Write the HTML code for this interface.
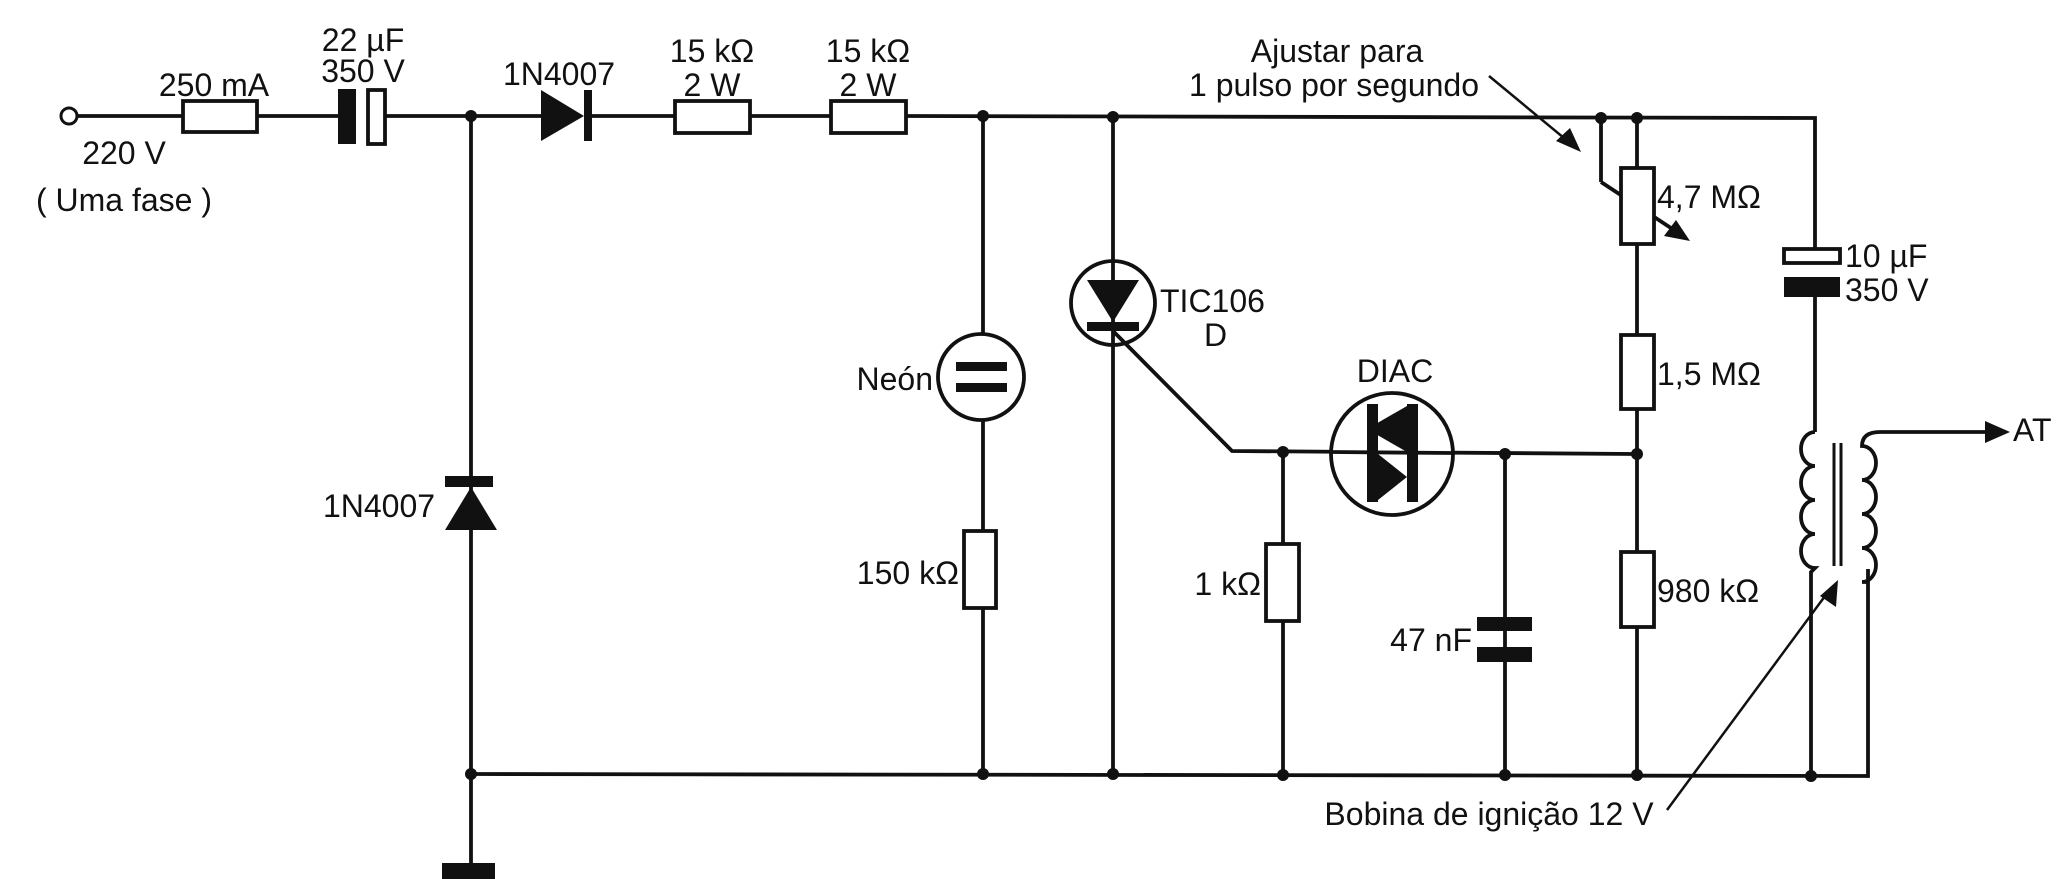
<!DOCTYPE html>
<html><head><meta charset="utf-8"><style>
html,body{margin:0;padding:0;background:#fff;}
svg{display:block;}
text{font-family:"Liberation Sans",Arial,sans-serif;font-size:32px;fill:#111;}
</style></head><body>
<svg width="2068" height="879" viewBox="0 0 2068 879" xmlns="http://www.w3.org/2000/svg">
<g stroke="#111" stroke-width="3.8" fill="none">
<line x1="77" y1="116" x2="183" y2="116"/>
<line x1="257" y1="116" x2="338" y2="116"/>
<line x1="385" y1="116" x2="541" y2="116"/>
<line x1="592" y1="116" x2="675" y2="116"/>
<line x1="750" y1="116" x2="831" y2="116"/>
<polyline points="906,116 1815,118 1815,249"/>
<circle cx="69" cy="116" r="8" stroke-width="3"/>
<rect x="183" y="101" width="74" height="31" fill="#fff"/>
<rect x="368" y="90" width="17" height="54" fill="#fff"/>
<rect x="675" y="101" width="75" height="32" fill="#fff"/>
<rect x="831" y="101" width="75" height="32" fill="#fff"/>
<line x1="471" y1="116" x2="471" y2="863"/>
<polyline points="471,774 1868,776 1868,569"/>
<line x1="983" y1="116" x2="983" y2="774"/>
<circle cx="981" cy="377" r="43" fill="#fff"/>
<rect x="964" y="531" width="32" height="77" fill="#fff"/>
<line x1="1113" y1="116" x2="1113" y2="774"/>
<circle cx="1113" cy="303" r="42" fill="none"/>
<polyline points="1113,331 1232,451 1635,454"/>
<line x1="1283" y1="451" x2="1283" y2="774"/>
<rect x="1266" y="544" width="33" height="77" fill="#fff"/>
<circle cx="1392" cy="454" r="61" fill="#fff"/>
<line x1="1331" y1="452" x2="1453" y2="453"/>
<line x1="1505" y1="454" x2="1505" y2="774"/>
<line x1="1601" y1="118" x2="1601" y2="182"/>
<line x1="1601" y1="182" x2="1680" y2="234"/>
<line x1="1637" y1="118" x2="1637" y2="774"/>
<rect x="1621" y="168" width="33" height="76" fill="#fff"/>
<rect x="1621" y="335" width="33" height="74" fill="#fff"/>
<rect x="1621" y="552" width="33" height="75" fill="#fff"/>
<rect x="1784" y="249" width="56" height="14" fill="#fff"/>
<line x1="1815" y1="297" x2="1815" y2="432"/>
<path d="M1815,432 a14,17 0 0 0 0,34 a14,17 0 0 0 0,34 a14,17 0 0 0 0,34 a14,17 0 0 0 0,34 L1811,572 L1811,776"/>
<line x1="1834" y1="443" x2="1834" y2="566" stroke-width="3"/>
<line x1="1841" y1="443" x2="1841" y2="566" stroke-width="3"/>
<path d="M1990,432 L1880,432 Q1862,432 1862,446 a14,17 0 0 1 0,34 a14,17 0 0 1 0,34 a14,17 0 0 1 0,34 a14,17 0 0 1 0,34 L1868,582"/>
<line x1="1489" y1="76" x2="1570" y2="143" stroke-width="2.5"/>
<line x1="1667" y1="810" x2="1828" y2="592" stroke-width="2.5"/>
</g>
<g fill="#111">
<rect x="338" y="89" width="18" height="55"/>
<polygon points="541,90 541,141 584,116"/>
<rect x="584" y="90" width="8" height="51"/>
<rect x="445" y="476" width="48" height="11"/>
<polygon points="471,487 445,530 497,530"/>
<rect x="442" y="863" width="53" height="16"/>
<rect x="956" y="362" width="51" height="9"/>
<rect x="956" y="383" width="51" height="9"/>
<polygon points="1087,280 1139,280 1113,322"/>
<rect x="1087" y="322" width="52" height="9"/>
<rect x="1367" y="404" width="11" height="98"/>
<rect x="1407" y="404" width="11" height="98"/>
<polygon points="1367,429 1407,406 1407,452"/>
<polygon points="1407,477 1378,454 1378,500"/>
<rect x="1477" y="617" width="55" height="14"/>
<rect x="1477" y="647" width="55" height="15"/>
<rect x="1784" y="277" width="56" height="20"/>
<polygon points="1690,241 1664,236 1676,220"/>
<polygon points="1581,152 1556,141 1570,128"/>
<polygon points="1838,580 1836,607 1820,596"/>
<polygon points="2010,432 1985,421 1985,443"/>
<circle cx="471" cy="116" r="6"/><circle cx="983" cy="116" r="6"/><circle cx="1113" cy="117" r="6"/>
<circle cx="1601" cy="118" r="6"/><circle cx="1637" cy="118" r="6"/>
<circle cx="471" cy="774" r="6"/><circle cx="983" cy="774" r="6"/><circle cx="1113" cy="774" r="6"/>
<circle cx="1283" cy="775" r="6"/><circle cx="1505" cy="775" r="6"/><circle cx="1637" cy="775" r="6"/><circle cx="1811" cy="776" r="6"/>
<circle cx="1283" cy="452" r="6"/><circle cx="1505" cy="454" r="6"/><circle cx="1637" cy="454" r="6"/>
</g>
<g>
<text x="214" y="96" text-anchor="middle">250 mA</text>
<text x="363" y="51" text-anchor="middle">22 µF</text>
<text x="363" y="82" text-anchor="middle">350 V</text>
<text x="559" y="85" text-anchor="middle">1N4007</text>
<text x="712" y="62" text-anchor="middle">15 kΩ</text>
<text x="712" y="96" text-anchor="middle">2 W</text>
<text x="868" y="62" text-anchor="middle">15 kΩ</text>
<text x="868" y="96" text-anchor="middle">2 W</text>
<text x="124" y="164" text-anchor="middle">220 V</text>
<text x="124" y="211" text-anchor="middle">( Uma fase )</text>
<text x="379" y="517" text-anchor="middle">1N4007</text>
<text x="933" y="390" text-anchor="end">Neón</text>
<text x="959" y="584" text-anchor="end">150 kΩ</text>
<text x="1160" y="312">TIC106</text>
<text x="1204" y="346">D</text>
<text x="1395" y="382" text-anchor="middle">DIAC</text>
<text x="1261" y="595" text-anchor="end">1 kΩ</text>
<text x="1472" y="651" text-anchor="end">47 nF</text>
<text x="1337" y="62" text-anchor="middle">Ajustar para</text>
<text x="1334" y="96" text-anchor="middle">1 pulso por segundo</text>
<text x="1657" y="208">4,7 MΩ</text>
<text x="1657" y="385">1,5 MΩ</text>
<text x="1657" y="602">980 kΩ</text>
<text x="1845" y="267">10 µF</text>
<text x="1845" y="301">350 V</text>
<text x="2013" y="441">AT</text>
<text x="1489" y="825" text-anchor="middle">Bobina de ignição 12 V</text>
</g>
</svg>
</body></html>
